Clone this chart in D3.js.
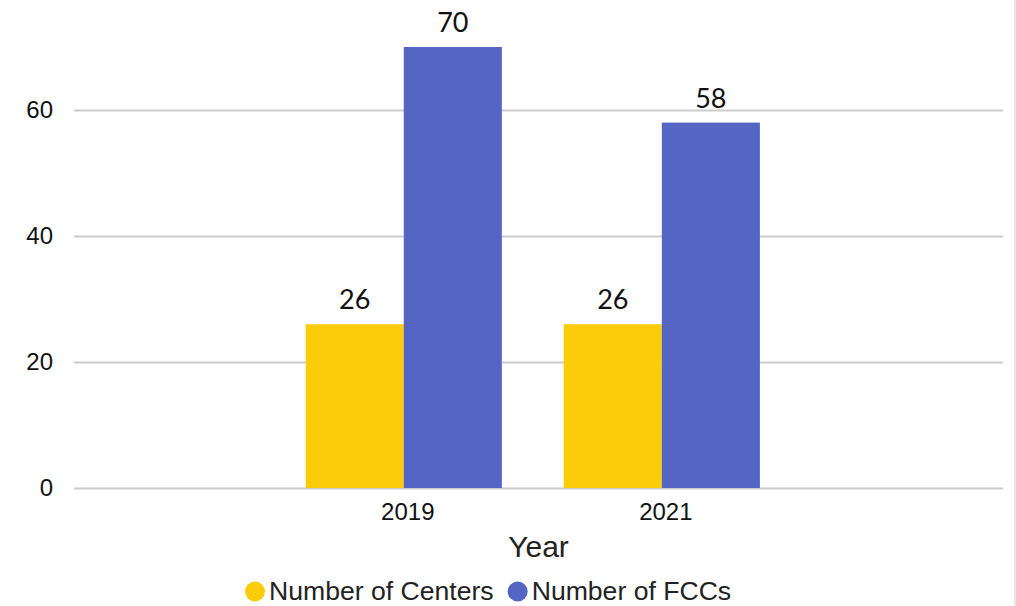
<!DOCTYPE html>
<html>
<head>
<meta charset="utf-8">
<script src="https://cdn.jsdelivr.net/npm/d3@7"></script>
<style>
  body { margin: 0; background: #fff; }
  svg { display: block; }
</style>
</head>
<body>
<div id="chart"></div>
<script>
// data
const years = ["2019", "2021"];
const seriesNames = ["Number of Centers", "Number of FCCs"];
const centers = [26, 26];
const fccs = [70, 58];
const yTicks = [0, 20, 40, 60];
const colors = ["#fccc0a", "#5465c4"];

const width = 1016, height = 606;
const plotLeft = 74, plotRight = 1003;

const rows = years.map((yr, i) => ({ year: yr, values: [centers[i], fccs[i]] }));

const svg = d3.select("#chart").append("svg")
    .attr("width", width)
    .attr("height", height)
    .attr("viewBox", [0, 0, width, height]);

const x = d3.scaleBand()
    .domain(years)
    .range([plotLeft, plotRight])
    .paddingInner(0.24)
    .paddingOuter(0.92)
    .align(0.488);

const x1 = d3.scaleBand()
    .domain(seriesNames)
    .range([0, x.bandwidth()]);

const y = d3.scaleLinear()
    .domain([0, 60])
    .range([488, 110]);

// y axis + gridlines
svg.append("g")
    .attr("transform", `translate(${plotLeft},0)`)
    .call(d3.axisLeft(y).tickValues(yTicks).tickSize(-(plotRight - plotLeft)).tickPadding(21))
    .call(g => g.select(".domain").remove())
    .call(g => g.selectAll(".tick line").attr("stroke", "#cccccc").attr("stroke-width", 2))
    .call(g => g.selectAll(".tick text")
        .attr("fill", "#111")
        .style("font-family", "'Liberation Sans', Arial, sans-serif")
        .style("font-size", "24px"));

// bars
const groups = svg.append("g")
    .selectAll("g")
    .data(rows)
    .join("g")
    .attr("transform", d => `translate(${x(d.year)},0)`);

groups.selectAll("rect")
    .data(d => d.values.map((v, i) => ({ key: seriesNames[i], value: v, idx: i })))
    .join("rect")
    .attr("x", d => x1(d.key))
    .attr("y", d => y(d.value))
    .attr("width", x1.bandwidth())
    .attr("height", d => y(0) - y(d.value))
    .attr("fill", d => colors[d.idx]);

groups.selectAll("text")
    .data(d => d.values.map((v, i) => ({ key: seriesNames[i], value: v })))
    .join("text")
    .attr("x", d => x1(d.key) + x1.bandwidth() / 2)
    .attr("y", d => y(d.value) - 15)
    .attr("text-anchor", "middle")
    .attr("fill", "#111")
    .style("font-family", "Lato, 'Open Sans', sans-serif")
    .style("font-size", "27px")
    .text(d => d.value);

// x axis
svg.append("g")
    .attr("transform", `translate(0,${y(0)})`)
    .call(d3.axisBottom(x).tickSize(0).tickPadding(15))
    .call(g => g.select(".domain").remove())
    .call(g => g.selectAll(".tick text")
        .attr("dx", 4)
        .attr("fill", "#111")
        .style("font-family", "'Liberation Sans', Arial, sans-serif")
        .style("font-size", "24px"));

svg.append("text")
    .attr("x", (plotLeft + plotRight) / 2)
    .attr("y", 557)
    .attr("text-anchor", "middle")
    .attr("fill", "#222")
    .style("font-family", "'Liberation Sans', Arial, sans-serif")
    .style("font-size", "30px")
    .text("Year");

// legend
const legend = svg.append("g");
let lx = 245;
seriesNames.forEach((name, i) => {
    legend.append("circle")
        .attr("cx", lx + 10)
        .attr("cy", 591.5)
        .attr("r", 10)
        .attr("fill", colors[i]);
    const t = legend.append("text")
        .attr("x", lx + 24)
        .attr("y", 600)
        .attr("fill", "#222")
        .style("font-family", "'Liberation Sans', Arial, sans-serif")
        .style("font-size", "26.6px")
        .text(name);
    lx += 24 + t.node().getComputedTextLength() + 14;
});

// right edge border
svg.append("line")
    .attr("x1", 1015).attr("x2", 1015)
    .attr("y1", 0).attr("y2", height)
    .attr("stroke", "#e6e6ec")
    .attr("stroke-width", 2);
</script>
</body>
</html>
